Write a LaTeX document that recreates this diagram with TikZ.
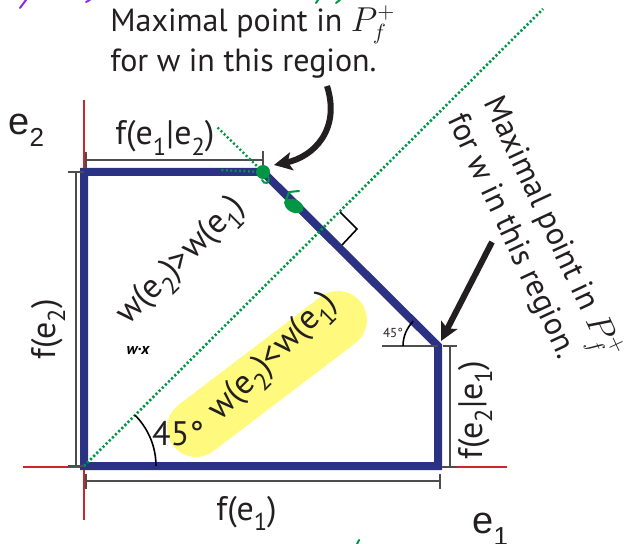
\documentclass[tikz,border=0pt]{standalone}
\usepackage{fontspec}
\setmainfont{PT Sans}
\newfontfamily\arialfont{Liberation Sans}
\usepackage{graphicx}
\usetikzlibrary{arrows.meta}
\definecolor{polyblue}{RGB}{43,49,131}
\definecolor{diaggreen}{RGB}{0,150,68}
\definecolor{axisred}{RGB}{210,35,42}
\definecolor{dimgray}{RGB}{77,77,77}
\definecolor{textgray}{RGB}{35,31,32}
\definecolor{hiyellow}{RGB}{255,250,125}
\definecolor{inkpurple}{RGB}{140,40,230}
\newcommand{\lsub}[1]{\raisebox{-0.3em}{\scalebox{0.72}{#1}}}
\newcommand{\bigsub}[1]{\raisebox{-6pt}{\fontsize{13}{13}\selectfont #1}}

\begin{document}
\begin{tikzpicture}[x=0.5pt, y=-0.5pt,
    every node/.style={font=\fontsize{17}{20}\selectfont, text=textgray, inner sep=0pt},
    poly/.style={polyblue, line width=4pt, line join=miter},
    dimline/.style={dimgray, line width=1pt},
    dimtick/.style={dimgray, line width=1.4pt},
    axisline/.style={axisred, line width=0.6pt},
    diag/.style={diaggreen, line width=1.3pt, dash pattern=on 1.1pt off 1.1pt},
    pointer/.style={textgray, line width=3pt, -{Stealth[length=9pt, width=9pt, inset=2pt]}},
    ink/.style={diaggreen, line width=1pt, line cap=round}]
    \useasboundingbox (0,0) rectangle (624,544);

    % Оси
    \draw[axisline] (23,467) -- (507,467);
    \draw[axisline] (84,100) -- (84,520);

    % Выделение
    \draw[hiyellow, line width=29pt, line cap=round] (196,428) -- (338,320);

    % Многоугольник
    \coordinate (o) at (84,466);
    \coordinate (p2) at (84,172);
    \coordinate (q1) at (263,172);
    \coordinate (q2) at (438,346);
    \coordinate (p1) at (438,466);
    \draw[poly] (o) -- (p2) -- (q1) -- (q2) -- (p1) -- cycle;

    % Диагональ
    \coordinate (diagend) at (543,9);
    \draw[diag] (o) -- (diagend);
    \draw[black, line width=0.8pt] (340,212) -- (357,229) -- (342,245);

    % Размеры
    \draw[dimline] (76,172) -- (76,466);
    \draw[dimtick] (68,172) -- (84,172) (68,466) -- (84,466);
    \draw[dimline] (86,160) -- (263,160);
    \draw[dimtick] (86,152) -- (86,168) (263,151) -- (263,168);
    \draw[dimline] (86,481) -- (440,481);
    \draw[dimtick] (86,474) -- (86,489) (440,474) -- (440,489);
    \draw[dimline] (450,346) -- (450,467);
    \draw[dimtick] (443,346) -- (457,346) (443,467) -- (457,467);

    % Углы
    \draw[black, line width=0.8pt] (156,466) arc (0:-45:72);
    \node (bigangle) at (178,434) {45°};
    \draw[dimgray, line width=0.8pt] (382,346) -- (q2);
    \draw[black, line width=0.8pt] (403,346) arc (-180:-135:35);
    \node[font=\fontsize{6.5}{7}\selectfont] (smallangle) at (393,333) {45°};

    % Подписи
    \node[anchor=base west] (lbltop) at (115,145) {f(e\lsub{1}|e\lsub{2})};
    \node[anchor=base west] (lblbottom) at (216,520) {f(e\lsub{1})};
    \node[anchor=base west, rotate=90] (lblleft) at (55,360) {f(e\lsub{2})};
    \node[anchor=base west, rotate=90] (lblright) at (482,460) {f(e\lsub{2}|e\lsub{1})};
    \node[anchor=base west, font=\arialfont\fontsize{19}{19}\selectfont] (axe2) at (8,135) {e\bigsub{2}};
    \node[anchor=base west, font=\arialfont\fontsize{19}{19}\selectfont] (axe1) at (472,533) {e\bigsub{1}};
    \node[rotate=45] (upper) at (182,262) {w(e\lsub{2})>w(e\lsub{1})};
    \node[rotate=45] (lower) at (274,358) {w(e\lsub{2})<w(e\lsub{1})};
    \node[font=\bfseries\itshape\fontsize{8}{8}\selectfont, text=black] (wx) at (138,351) {w·x};

    % Пояснения
    \node[anchor=west, align=left, font=\fontsize{16}{20}\selectfont] (topnote) at (110,42)
        {Maximal point in $P_f^+$\\for w in this region.};
    \node[rotate=-65, align=left, font=\fontsize{16}{20}\selectfont] (sidenote) at (534,236)
        {Maximal point in $P_f^+$\\for w in this region.};
    \coordinate (arrAstart) at (327,86);
    \coordinate (arrAend) at (274,165);
    \draw[pointer] (arrAstart) .. controls (341,130) and (313,157) .. (arrAend);
    \coordinate (arrBstart) at (492,242);
    \coordinate (arrBend) at (441,341);
    \draw[pointer] (arrBstart) -- (arrBend);

    % Пометки
    \fill[diaggreen] (q1) circle (3.5pt);
    \draw[diaggreen, line width=1.2pt, dash pattern=on 1pt off 1.2pt] (q1) -- (217,127);
    \draw[diaggreen, line width=1.2pt, dash pattern=on 1pt off 1.2pt] (q1) -- (220,170);
    \draw[ink] (268,176) .. controls (271,184) and (264,185) .. (262,180);
    \fill[diaggreen, rotate around={-25:(294,206)}] (294,206) ellipse (5pt and 3.3pt);
    \draw[ink] (285,203) -- (289,192) -- (299,191);
    \draw[ink] (316,3) -- (318,0) (336,3) -- (340,0) (357,544) -- (359,540);
    \draw[inkpurple, line width=1pt, line cap=round] (20,8) -- (26,0) (86,2) -- (90,0);
\end{tikzpicture}
\end{document}
